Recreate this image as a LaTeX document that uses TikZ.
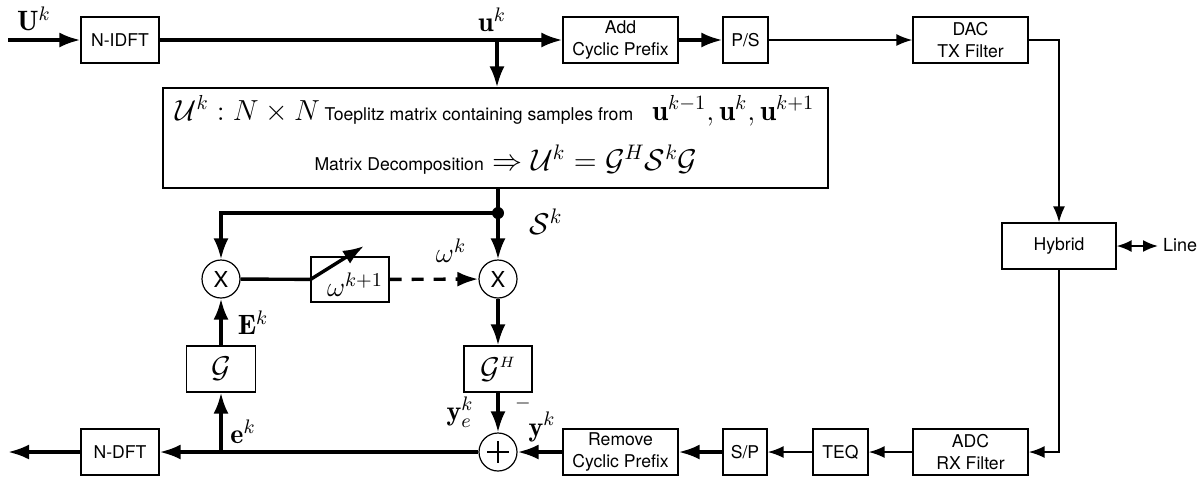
\RequirePackage{fix-cm}
\documentclass[tikz,border=0pt]{standalone}
\usepackage{amsmath}
\usepackage{fontspec}
\newfontfamily\hv{TeX Gyre Heros}
\usetikzlibrary{arrows.meta}
\newcommand\myfs[1]{\fontsize{#1}{#1}\selectfont}
\begin{document}
\begin{tikzpicture}[x=0.5pt,y=-0.5pt,
 blk/.style={draw,line width=0.6pt,fill=white,inner sep=0pt,align=center,font=\hv\fontsize{8.8}{11}\selectfont},
 mult/.style={draw,circle,line width=0.6pt,minimum size=19pt,inner sep=0pt,font=\hv\fontsize{11}{11}\selectfont},
 lbl/.style={inner sep=0pt,font=\myfs{14}},
 thk/.style={line width=1.7pt},
 thn/.style={line width=1pt},
 arr/.style={-{Latex[length=10.5pt,width=7.5pt]}},
 arrs/.style={-{Latex[length=8pt,width=6pt]}},
]
\useasboundingbox (0,0) rectangle (1202,479);
% top row
\node[blk,minimum width=39pt,minimum height=23pt] (ni) at (120,40) {N-IDFT};
\node[blk,minimum width=57.5pt,minimum height=23pt] (acp) at (620.5,40) {Add\\Cyclic Prefix};
\node[blk,minimum width=22.5pt,minimum height=23pt] (ps) at (745.5,40) {P/S};
\node[blk,minimum width=57.5pt,minimum height=23pt] (dac) at (970.5,40) {DAC\\TX Filter};
\node[blk,minimum width=57pt,minimum height=23pt] (hyb) at (1059,246) {Hybrid};
\node[inner sep=0pt,font=\hv\fontsize{9}{10}\selectfont] (line) at (1180,245) {Line};
\coordinate (lineend) at (1158,246);
% bottom row
\node[blk,minimum width=57.5pt,minimum height=23pt] (adc) at (970.5,452) {ADC\\RX Filter};
\node[blk,minimum width=27.5pt,minimum height=23pt] (teq) at (840.5,452) {TEQ};
\node[blk,minimum width=22pt,minimum height=23pt] (sp) at (745,452) {S/P};
\node[blk,minimum width=57.5pt,minimum height=23pt] (rcp) at (620.5,452) {Remove\\Cyclic Prefix};
\node[mult] (sum) at (498,452) {};
\node[blk,minimum width=39pt,minimum height=23pt] (nd) at (120,452) {N-DFT};
% big box
\node[blk,minimum width=332.5pt,minimum height=50pt] (big) at (495.5,138) {};
\node[inner sep=0pt,font=\myfs{14.5}] (t1) at (495,111) {$\mathcal{U}^k : N \times N$\,{\hv\myfs{8.8}Toeplitz matrix containing samples from}\ \ $\mathbf{u}^{k-1}, \mathbf{u}^k, \mathbf{u}^{k+1}$};
\node[inner sep=0pt,font=\myfs{15}] (t2) at (506,160) {{\hv\myfs{8.8}Matrix Decomposition} $\Rightarrow \mathcal{U}^k = \mathcal{G}^H\mathcal{S}^k\mathcal{G}$};
% adaptive part
\node[mult] (mx1) at (221,279) {X};
\node[mult] (mx2) at (498,279) {X};
\node[blk,minimum width=39pt,minimum height=22.5pt] (om) at (350,279.5) {};
\node[inner sep=0pt,font=\myfs{14}] (omt) at (355,285) {$\omega^{k+1}$};
\coordinate (wtip) at (364,246);
\node[blk,minimum width=34.5pt,minimum height=23pt,font=\myfs{15}] (g) at (221,369) {$\mathcal{G}$};
\node[blk,minimum width=34pt,minimum height=23pt,font=\myfs{15}] (gh) at (498,369) {$\mathcal{G}^{\scriptscriptstyle H}$};
\coordinate (in) at (8,40);
\coordinate (out) at (8,452);
\coordinate (br) at (497,40);
\coordinate (jn) at (221,452);
\coordinate (dot) at (498,213);
% labels
\node[lbl] (lU) at (34,19) {$\mathbf{U}^k$};
\node[lbl] (lu) at (492,20) {$\mathbf{u}^k$};
\node[lbl,font=\myfs{15}] (lS) at (546,222) {$\mathcal{S}^k$};
\node[lbl] (lw) at (451,251) {$\omega^k$};
\node[lbl] (lE) at (253,323) {$\mathbf{E}^k$};
\node[lbl] (le) at (243,432) {$\mathbf{e}^k$};
\node[lbl] (lye) at (460,412) {$\mathbf{y}_e^k$};
\node[lbl,font=\myfs{10}] (lm) at (523,403) {$-$};
\node[lbl] (ly) at (542,427) {$\mathbf{y}^k$};
% plus sign
\draw[line width=0.6pt] (sum.center) ++(-11,0) -- ++(22,0);
\draw[line width=0.6pt] (sum.center) ++(0,-11) -- ++(0,22);
% connectors
\draw[thk,arr] (in) -- (ni);
\draw[thk,arr] (ni) -- (acp);
\draw[thk,arr] (br) -- (br |- big.north);
\draw[thk,arr] (acp) -- (ps);
\draw[thn,arrs] (ps) -- (dac);
\draw[thn,arrs] (dac.east) -| (hyb.north);
\draw[thn,arrs] (hyb.south) |- (adc.east);
\draw[thn,{Latex[length=7.5pt,width=6pt]}-{Latex[length=7.5pt,width=6pt]}] (hyb.east) -- (lineend);
\draw[thn,arrs] (adc) -- (teq);
\draw[thn,arrs] (teq) -- (sp);
\draw[thk,arr] (sp) -- (rcp);
\draw[thk,arr] (rcp) -- (sum);
\draw[thk,arr] (sum) -- (nd);
\draw[thk,arr] (nd) -- (out);
\draw[thk,arr] (jn) -- (g);
\draw[thk,arr] (g) -- (mx1);
\draw[thk] (big.south -| dot) -- (dot);
\draw[thk,arr] (dot) -- (mx2);
\draw[thk,arr] (dot) -| (mx1);
\fill (dot) circle (3pt);
\draw[thk] (mx1) -- (om);
\draw[thk,arr] (om.west) -- (wtip);
\draw[thk,arr,dash pattern=on 6pt off 5pt] (om) -- (mx2);
\draw[thk,arr] (mx2) -- (gh);
\draw[thk,arr] (gh) -- (sum);
\end{tikzpicture}
\end{document}
